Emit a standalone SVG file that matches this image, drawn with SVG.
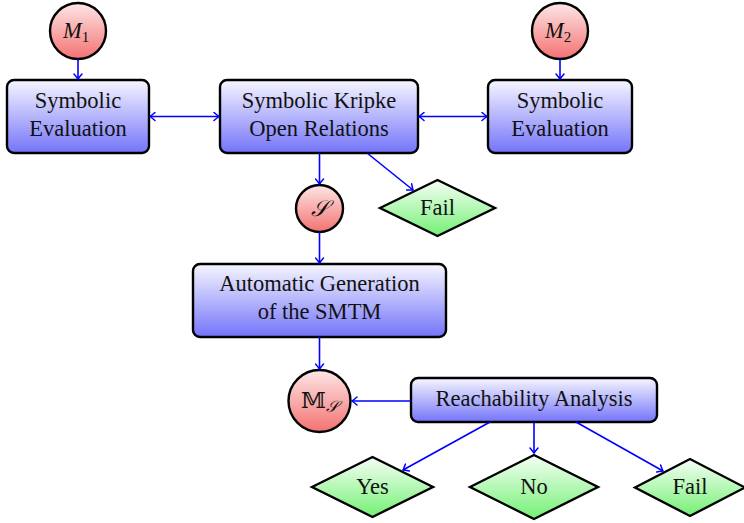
<svg xmlns="http://www.w3.org/2000/svg" width="744" height="523" viewBox="0 0 744 523">
<defs>
<linearGradient id="gBox" x1="0" y1="0" x2="0" y2="1">
<stop offset="0" stop-color="#f6f6ff"/>
<stop offset="1" stop-color="#7474fa"/>
</linearGradient>
<linearGradient id="gCirc" x1="0" y1="0" x2="0" y2="1">
<stop offset="0" stop-color="#fde6e6"/>
<stop offset="1" stop-color="#f47272"/>
</linearGradient>
<linearGradient id="gDia" x1="0" y1="0" x2="0" y2="1">
<stop offset="0" stop-color="#f6fff6"/>
<stop offset="1" stop-color="#74f074"/>
</linearGradient>
<marker id="ah" viewBox="-6 -5 8 10" refX="0" refY="0" markerWidth="8" markerHeight="10" markerUnits="userSpaceOnUse" orient="auto-start-reverse">
<path d="M-5,-4 Q-1.5,-1 0,0 Q-1.5,1 -5,4" fill="none" stroke="#0000ff" stroke-width="1.5" stroke-linecap="round"/>
</marker>
</defs>
<style>
.box{fill:url(#gBox);stroke:#000;stroke-width:2.4}
.circ{fill:url(#gCirc);stroke:#000;stroke-width:2.4}
.dia{fill:url(#gDia);stroke:#000;stroke-width:2.4;stroke-linejoin:miter}
text{font-family:"Liberation Serif","DejaVu Serif",serif;font-size:22.5px;fill:#111;text-anchor:middle}
.it{font-style:italic}
.conn line{stroke:#0000ff;stroke-width:1.6;fill:none}
</style>

<g id="M1">
<circle class="circ" cx="78" cy="31" r="28"/>
<text x="76" y="38"><tspan class="it">M</tspan><tspan font-size="15" dy="4">1</tspan></text>
</g>
<g id="M2">
<circle class="circ" cx="560" cy="31" r="28"/>
<text x="558" y="38"><tspan class="it">M</tspan><tspan font-size="15" dy="4">2</tspan></text>
</g>
<g id="symEval1">
<rect class="box" x="7" y="80" width="142" height="73" rx="7"/>
<text x="78" y="108">Symbolic</text>
<text x="78" y="136">Evaluation</text>
</g>
<g id="kripke">
<rect class="box" x="220" y="80" width="198" height="73" rx="7"/>
<text x="319" y="108">Symbolic Kripke</text>
<text x="319" y="136">Open Relations</text>
</g>
<g id="symEval2">
<rect class="box" x="488" y="80" width="144" height="73" rx="7"/>
<text x="560" y="108">Symbolic</text>
<text x="560" y="136">Evaluation</text>
</g>
<g id="S">
<circle class="circ" cx="319.5" cy="208.5" r="23.5"/>
<text x="319.5" y="216" class="it">𝒮</text>
</g>
<g id="fail1">
<polygon class="dia" points="380,208 437.5,180 495,208 437.5,236"/>
<text x="437.5" y="215">Fail</text>
</g>
<g id="autogen">
<rect class="box" x="193" y="264" width="253" height="73" rx="7"/>
<text x="319.5" y="291">Automatic Generation</text>
<text x="319.5" y="319">of the SMTM</text>
</g>
<g id="MS">
<circle class="circ" cx="319.5" cy="401" r="31"/>
<text x="319.5" y="408"><tspan>𝕄</tspan><tspan font-size="16" dy="4" class="it">𝒮</tspan></text>
</g>
<g id="reach">
<rect class="box" x="411" y="378" width="246" height="44" rx="7"/>
<text x="534" y="406">Reachability Analysis</text>
</g>
<g id="yes">
<polygon class="dia" points="312,487 372.5,457 433,487 372.5,517"/>
<text x="372.5" y="494">Yes</text>
</g>
<g id="no">
<polygon class="dia" points="470,487 534,455 598,487 534,519"/>
<text x="534" y="494">No</text>
</g>
<g id="fail2">
<polygon class="dia" points="635,487.5 690,459 745,487.5 690,516"/>
<text x="690" y="494">Fail</text>
</g>

<g id="connectors" class="conn">
<line x1="78" y1="59" x2="78" y2="79" marker-end="url(#ah)"/>
<line x1="560" y1="59" x2="560" y2="79" marker-end="url(#ah)"/>
<line x1="150" y1="116.5" x2="219" y2="116.5" marker-start="url(#ah)" marker-end="url(#ah)"/>
<line x1="419" y1="116.5" x2="487" y2="116.5" marker-start="url(#ah)" marker-end="url(#ah)"/>
<line x1="319.5" y1="153" x2="319.5" y2="184" marker-end="url(#ah)"/>
<line x1="367" y1="153" x2="413" y2="190" marker-end="url(#ah)"/>
<line x1="319.5" y1="232" x2="319.5" y2="263" marker-end="url(#ah)"/>
<line x1="319.5" y1="337" x2="319.5" y2="369" marker-end="url(#ah)"/>
<line x1="411" y1="401" x2="352" y2="401" marker-end="url(#ah)"/>
<line x1="490" y1="422" x2="403" y2="470" marker-end="url(#ah)"/>
<line x1="534" y1="422" x2="534" y2="453" marker-end="url(#ah)"/>
<line x1="576" y1="422" x2="663" y2="471" marker-end="url(#ah)"/>
</g>
</svg>
